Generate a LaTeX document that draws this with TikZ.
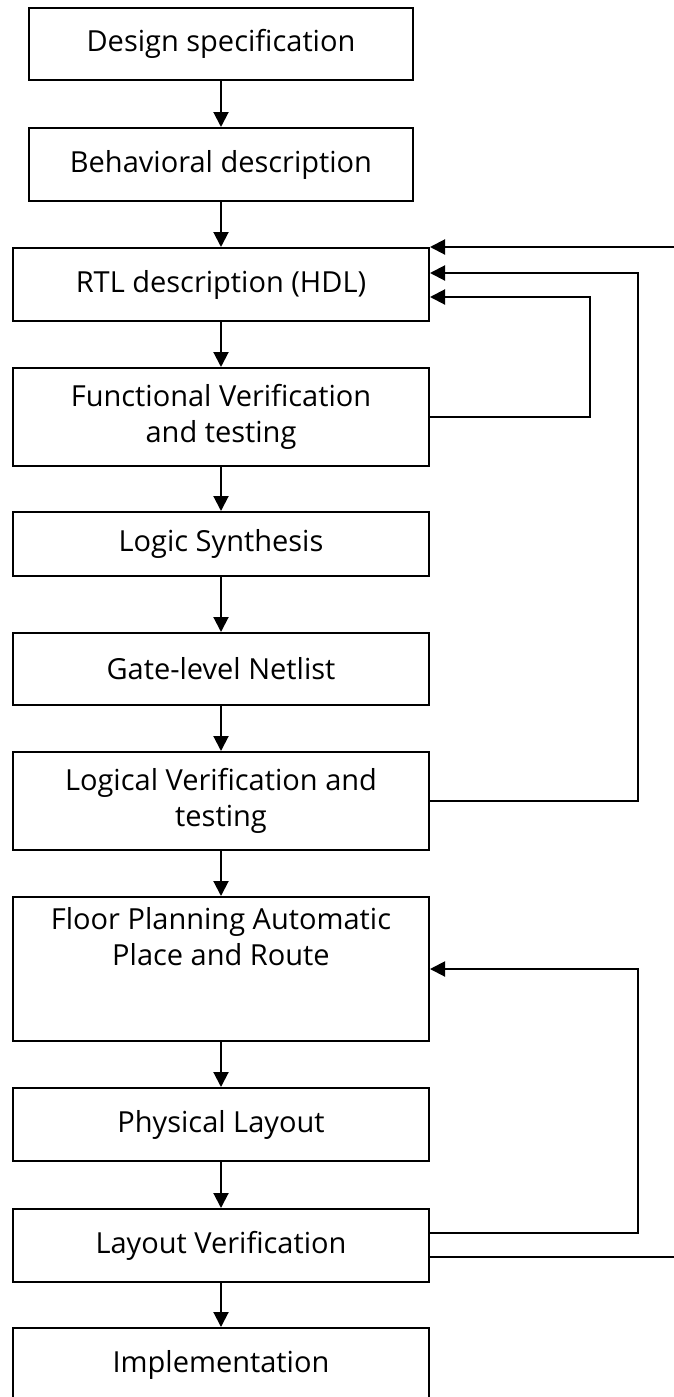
\documentclass[tikz,border=0pt]{standalone}
\usepackage{fontspec}
\setmainfont{Open Sans}[Ligatures=NoCommon]
\usetikzlibrary{arrows.meta, calc}

\begin{document}
\begin{tikzpicture}[>={Triangle[length=15pt,width=15pt]},x=1pt,y=-1pt,line width=2pt,
  lbl/.style={align=center,inner sep=0pt,font=\fontsize{29}{36}\selectfont},
  blk/.style={draw,lbl,minimum width=416pt,minimum height=73pt}]
  \useasboundingbox (0,0) rectangle (674,1397);
  \clip (0,0) rectangle (674,1397);
  % main flow
  \node[blk,minimum width=384pt,minimum height=72pt] (design) at (221,44) {Design specification};
  \node[blk,minimum width=384pt] (behav) at (221,164.5) {Behavioral description};
  \node[blk] (rtl) at (221,284.5) {RTL description (HDL)};
  \node[blk,minimum height=98pt] (func) at (221,417) {Functional Verification\\and testing};
  \node[blk,minimum height=64pt] (synth) at (221,544) {Logic Synthesis};
  \node[blk,minimum height=72pt] (netlist) at (221,669) {Gate-level Netlist};
  \node[blk,minimum height=98pt] (logver) at (221,801) {Logical Verification and\\testing};
  \node[blk,minimum height=144pt] (floor) at (221,969) {};
  \node[lbl] (floortxt) at (221,937) {Floor Planning Automatic\\Place and Route};
  \node[blk] (phys) at (221,1124.5) {Physical Layout};
  \node[blk] (layver) at (221,1245.5) {Layout Verification};
  \node[blk] (impl) at (221,1364.5) {Implementation};
  \draw[->] (design) -- (behav);
  \draw[->] (behav) -- (rtl);
  \draw[->] (rtl) -- (func);
  \draw[->] (func) -- (synth);
  \draw[->] (synth) -- (netlist);
  \draw[->] (netlist) -- (logver);
  \draw[->] (logver) -- (floor);
  \draw[->] (floor) -- (phys);
  \draw[->] (phys) -- (layver);
  \draw[->] (layver) -- (impl);
  % feedback loops
  \draw[->] (func.east) -| ($(rtl.east)+(160,12.5)$) -- ($(rtl.east)+(0,12.5)$);
  \draw[->] (logver.east) -| ($(rtl.east)+(208,-11.5)$) -- ($(rtl.east)+(0,-11.5)$);
  \draw[->] ($(layver.east)+(0,-12.5)$) -| ($(floor.east)+(208,0)$) -- (floor.east);
  \draw[->] ($(layver.east)+(0,11.5)$) -| ($(rtl.north east)+(280,0)$) -- (rtl.north east);
\end{tikzpicture}
\end{document}
